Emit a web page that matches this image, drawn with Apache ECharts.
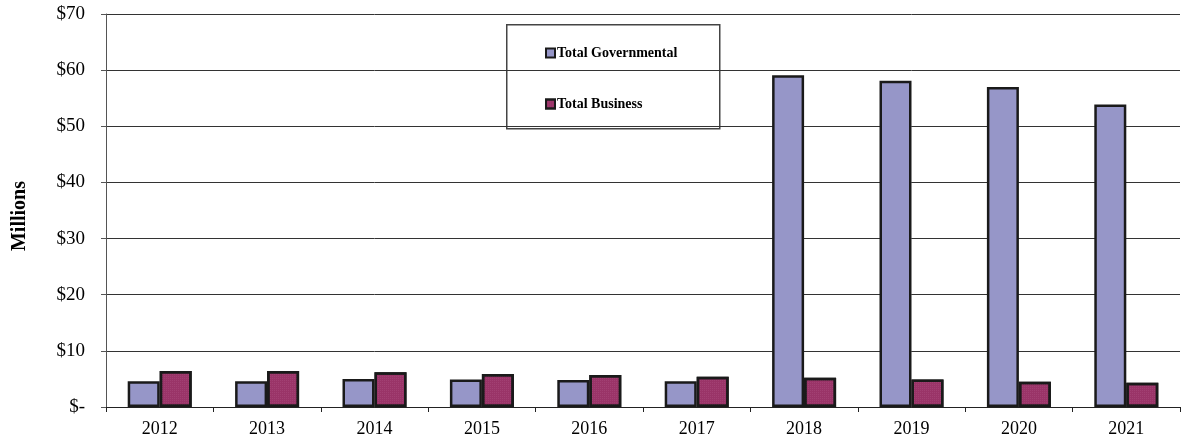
<!DOCTYPE html>
<html>
<head>
<meta charset="utf-8">
<script src="https://cdn.jsdelivr.net/npm/echarts@6/dist/echarts.min.js"></script>
<style>html,body{margin:0;padding:0;background:#fff}#c{width:1184px;height:442px}</style>
</head>
<body>
<div id="c"></div>
<script>
const categories = ['2012','2013','2014','2015','2016','2017','2018','2019','2020','2021'];
const governmental = [4.6, 4.6, 5.0, 4.9, 4.8, 4.6, 59.1, 58.1, 57.0, 53.9];
const business = [6.4, 6.4, 6.2, 5.9, 5.7, 5.4, 5.2, 4.9, 4.5, 4.3];
const seriesNames = ['Total Governmental', 'Total Business'];
const yTicks = [0, 10, 20, 30, 40, 50, 60, 70];
const yTitle = 'Millions';

const font = '"Liberation Serif", "Times New Roman", serif';
const chart = echarts.init(document.getElementById('c'));
chart.setOption({
  animation: false,
  backgroundColor: '#fff',
  grid: { left: 106, right: 4, top: 14, bottom: 35, containLabel: false },
  graphic: [
    {
      type: 'rect', left: 506, top: 24, z: 0,
      shape: { width: 213, height: 104 },
      style: { fill: '#fff', stroke: '#444', lineWidth: 1.5 }
    },
    {
      type: 'text', x: 20, y: 216, rotation: Math.PI / 2,
      style: { text: yTitle, font: 'bold 20px ' + font, fill: '#000', align: 'center', verticalAlign: 'middle' }
    }
  ],
  legend: {
    orient: 'vertical', left: 540, top: 41, itemGap: 37, z: 10,
    itemWidth: 9, itemHeight: 9,
    textStyle: { fontFamily: font, fontWeight: 'bold', fontSize: 14, color: '#000', padding: [0,0,0,-3] },
    data: seriesNames.map(n => ({ name: n, icon: 'rect' }))
  },
  xAxis: {
    type: 'category', data: categories,
    axisLine: { lineStyle: { color: '#222', width: 1 } },
    axisTick: { show: true, length: 5, lineStyle: { color: '#222' } },
    axisLabel: { fontFamily: font, fontSize: 18, color: '#000', margin: 13 }
  },
  yAxis: {
    type: 'value', min: 0, max: 70, interval: 10,
    axisLine: { show: true, lineStyle: { color: '#555', width: 1 } },
    axisTick: { show: true, length: 5, lineStyle: { color: '#555' } },
    splitLine: { lineStyle: { color: '#333', width: 1 } },
    axisLabel: {
      fontFamily: font, fontSize: 19, color: '#000', margin: 21,
      formatter: v => yTicks.includes(v) ? (v === 0 ? '$-' : '$' + v) : ''
    }
  },
  series: [
    {
      name: seriesNames[0], type: 'bar', data: governmental,
      barWidth: 32, barGap: '0%',
      itemStyle: { color: '#9696C8', borderColor: '#1a1a1a', borderWidth: 2.5 }
    },
    {
      name: seriesNames[1], type: 'bar', data: business,
      barWidth: 32,
      itemStyle: {
        color: '#9A3468', borderColor: '#1a1a1a', borderWidth: 2.5,
        decal: { symbol: 'rect', symbolSize: 0.5, color: 'rgba(255,200,230,0.35)', dashArrayX: [1, 1], dashArrayY: [1, 1], rotation: 0 }
      }
    }
  ]
});
</script>
</body>
</html>
